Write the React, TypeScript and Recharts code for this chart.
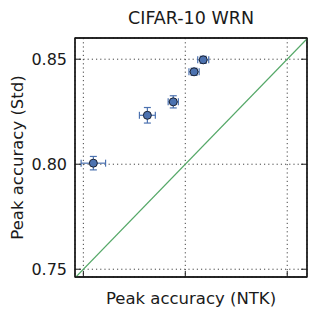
import React from 'react';
import {
  ScatterChart,
  Scatter,
  XAxis,
  YAxis,
  CartesianGrid,
  ErrorBar,
  ReferenceLine,
  ReferenceArea,
} from 'recharts';

// peak accuracy pairs (NTK vs standard parameterisation), with std errors
const ntkAcc = [0.7549, 0.7814, 0.7941, 0.8043, 0.8088];
const stdAcc = [0.8005, 0.8233, 0.8297, 0.8440, 0.8497];
const ntkErr = [0.006, 0.0039, 0.0025, 0.0025, 0.0027];
const stdErr = [0.0032, 0.0037, 0.0029, 0.0017, 0.0017];
const ticks = [0.75, 0.8, 0.85];

const X_DOMAIN: [number, number] = [0.7459, 0.8597];
const Y_DOMAIN: [number, number] = [0.7463, 0.8601];

const FONT = '"DejaVu Sans", sans-serif';
const BLUE = '#4c72b0';
const GREEN = '#55a868';
const FRAME = '#1a1a1a';
const TEXT = '#1a1a1a';

const points = ntkAcc.map((x, i) => ({
  x,
  y: stdAcc[i],
  ex: ntkErr[i],
  ey: stdErr[i],
}));

const Dot = (props: any) => (
  <circle cx={props.cx} cy={props.cy} r={4} fill={BLUE} stroke="#1c2333" strokeWidth={1} />
);

const NoTick = () => <g />;

const YLabel = (props: any) => {
  const vb = props.viewBox || {};
  const cy = vb.y + vb.height / 2;
  return (
    <text
      x={17}
      y={cy}
      transform={`rotate(-90, 17, ${cy})`}
      textAnchor="middle"
      dominantBaseline="central"
      fontSize={16.5}
      fontFamily={FONT}
      fill={TEXT}
    >
      Peak accuracy (Std)
    </text>
  );
};

export default function App() {
  return (
    <div style={{ position: 'absolute', top: 0, left: 0, width: 317, height: 315, background: '#fff' }}>
      <div
        style={{
          position: 'absolute',
          top: 6,
          left: 75,
          width: 232,
          textAlign: 'center',
          fontFamily: FONT,
          fontSize: 17.5,
          lineHeight: '24px',
          color: TEXT,
        }}
      >
        CIFAR-10 WRN
      </div>
      <ScatterChart width={317} height={315} margin={{ top: 37, right: 9, bottom: 0, left: 0 }}>
        <CartesianGrid stroke="#444" strokeDasharray="1.2 3" strokeWidth={1} />
        <XAxis
          type="number"
          dataKey="x"
          domain={X_DOMAIN}
          ticks={ticks}
          allowDataOverflow
          height={38}
          tickSize={-6}
          tick={NoTick}
          axisLine={{ stroke: FRAME, strokeWidth: 1.3 }}
          tickLine={{ stroke: FRAME }}
          label={{
            value: 'Peak accuracy (NTK)',
            position: 'center',
            dy: 2,
            fontSize: 16.5,
            fontFamily: FONT,
            fill: TEXT,
          }}
        />
        <XAxis
          xAxisId="top"
          orientation="top"
          type="number"
          domain={X_DOMAIN}
          ticks={ticks}
          allowDataOverflow
          height={1}
          tickSize={-6}
          tick={NoTick}
          axisLine={{ stroke: FRAME, strokeWidth: 1.3 }}
          tickLine={{ stroke: FRAME }}
        />
        <YAxis
          type="number"
          dataKey="y"
          domain={Y_DOMAIN}
          ticks={ticks}
          allowDataOverflow
          width={75}
          tickSize={-6}
          tickMargin={14}
          tickFormatter={(v: number) => v.toFixed(2)}
          tick={{ fontSize: 16, fontFamily: FONT, fill: TEXT }}
          axisLine={{ stroke: FRAME, strokeWidth: 1.3 }}
          tickLine={{ stroke: FRAME }}
          label={<YLabel />}
        />
        <YAxis
          yAxisId="right"
          orientation="right"
          type="number"
          domain={Y_DOMAIN}
          ticks={ticks}
          allowDataOverflow
          width={1}
          tickSize={-6}
          tick={NoTick}
          axisLine={{ stroke: FRAME, strokeWidth: 1.3 }}
          tickLine={{ stroke: FRAME }}
        />
        <ReferenceArea
          x1={X_DOMAIN[0]}
          x2={X_DOMAIN[1]}
          y1={Y_DOMAIN[0]}
          y2={Y_DOMAIN[1]}
          fill="none"
          stroke={FRAME}
          strokeWidth={1.3}
          ifOverflow="visible"
        />
        <ReferenceLine
          segment={[
            { x: 0.7459, y: 0.7459 },
            { x: 0.8601, y: 0.8601 },
          ]}
          stroke={GREEN}
          strokeWidth={1.3}
          ifOverflow="hidden"
        />
        <Scatter data={points} shape={Dot} isAnimationActive={false}>
          <ErrorBar dataKey="ex" direction="x" width={3.5} stroke={BLUE} strokeWidth={1.2} />
          <ErrorBar dataKey="ey" direction="y" width={3.5} stroke={BLUE} strokeWidth={1.2} />
        </Scatter>
      </ScatterChart>
    </div>
  );
}
